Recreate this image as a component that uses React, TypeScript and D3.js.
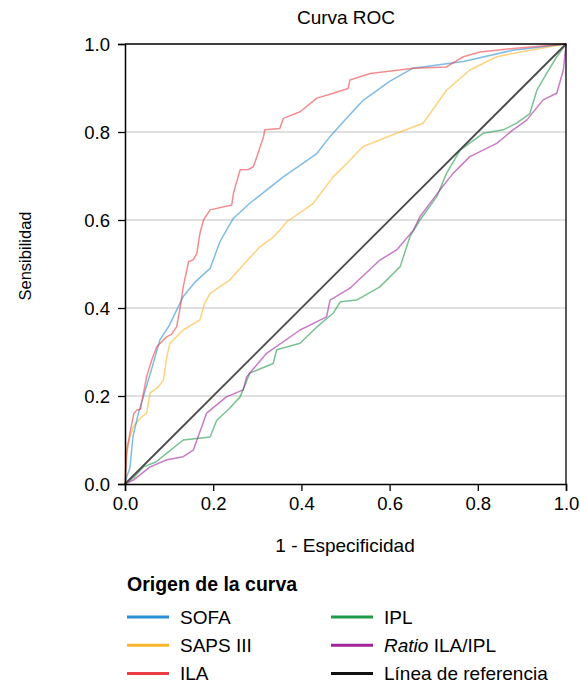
import React, { useEffect, useRef } from "react";
import * as d3 from "d3";

// ROC points: [1 - especificidad, sensibilidad]
const sofa = [
  [0, 0], [0.005, 0.02], [0.011, 0.036], [0.018, 0.107], [0.03, 0.16], [0.042, 0.2],
  [0.06, 0.26], [0.079, 0.327], [0.1, 0.36], [0.132, 0.426], [0.16, 0.46], [0.193, 0.49],
  [0.215, 0.55], [0.23, 0.577], [0.246, 0.604], [0.283, 0.638], [0.359, 0.698],
  [0.435, 0.751], [0.465, 0.79], [0.506, 0.835], [0.54, 0.872], [0.6, 0.915],
  [0.653, 0.945], [0.767, 0.96], [0.88, 0.986], [1, 1],
];
const saps = [
  [0, 0], [0.004, 0.085], [0.019, 0.13], [0.035, 0.15], [0.049, 0.161], [0.057, 0.207],
  [0.075, 0.22], [0.087, 0.236], [0.095, 0.29], [0.102, 0.32], [0.132, 0.35], [0.17, 0.373],
  [0.18, 0.41], [0.193, 0.433], [0.238, 0.464], [0.27, 0.5], [0.306, 0.539], [0.335, 0.56],
  [0.351, 0.577], [0.367, 0.596], [0.427, 0.638], [0.472, 0.698], [0.51, 0.736],
  [0.54, 0.767], [0.616, 0.797], [0.676, 0.82], [0.729, 0.895], [0.782, 0.941],
  [0.843, 0.971], [0.918, 0.986], [1, 1],
];
const ila = [
  [0, 0], [0.004, 0.07], [0.011, 0.115], [0.02, 0.16], [0.027, 0.168], [0.035, 0.17],
  [0.049, 0.244], [0.06, 0.28], [0.072, 0.312], [0.095, 0.335], [0.105, 0.34], [0.117, 0.357],
  [0.125, 0.4], [0.132, 0.448], [0.144, 0.505], [0.155, 0.51], [0.163, 0.524], [0.17, 0.57],
  [0.178, 0.6], [0.193, 0.623], [0.242, 0.634], [0.246, 0.661], [0.261, 0.714], [0.28, 0.715],
  [0.291, 0.721], [0.299, 0.744], [0.314, 0.789], [0.317, 0.805], [0.351, 0.808],
  [0.359, 0.831], [0.397, 0.846], [0.435, 0.877], [0.472, 0.888], [0.506, 0.899],
  [0.51, 0.918], [0.556, 0.933], [0.654, 0.945], [0.729, 0.948], [0.767, 0.971],
  [0.805, 0.982], [0.88, 0.99], [1, 1],
];
const ipl = [
  [0, 0], [0.02, 0.015], [0.042, 0.039], [0.07, 0.05], [0.095, 0.07], [0.132, 0.1],
  [0.193, 0.107], [0.208, 0.145], [0.235, 0.17], [0.261, 0.198], [0.283, 0.252],
  [0.336, 0.274], [0.344, 0.305], [0.397, 0.32], [0.435, 0.357], [0.472, 0.388],
  [0.488, 0.414], [0.525, 0.418], [0.578, 0.448], [0.624, 0.494], [0.646, 0.562],
  [0.669, 0.6], [0.707, 0.653], [0.729, 0.706], [0.76, 0.759], [0.812, 0.797],
  [0.858, 0.805], [0.888, 0.82], [0.918, 0.842], [0.934, 0.895], [0.956, 0.933],
  [0.979, 0.971], [1, 1],
];
const ratio = [
  [0, 0], [0.019, 0.009], [0.057, 0.039], [0.095, 0.055], [0.132, 0.062], [0.155, 0.077],
  [0.185, 0.161], [0.23, 0.198], [0.268, 0.214], [0.276, 0.244], [0.321, 0.297],
  [0.397, 0.35], [0.457, 0.38], [0.465, 0.418], [0.51, 0.445], [0.578, 0.509],
  [0.616, 0.532], [0.654, 0.577], [0.669, 0.608], [0.714, 0.668], [0.744, 0.706],
  [0.782, 0.744], [0.843, 0.774], [0.88, 0.805], [0.911, 0.827], [0.948, 0.873],
  [0.979, 0.888], [0.994, 0.941], [1, 1],
];
const reference = [[0, 0], [1, 1]];

const seriesNames = ["SOFA", "SAPS III", "ILA", "IPL", "Ratio ILA/IPL", "Línea de referencia"];
const seriesColors = ["#2a8fd4", "#fdb42a", "#ec3f44", "#1f9a4a", "#a2249e", "#111111"];
const seriesData = [sofa, saps, ila, ipl, ratio, reference];
const ticks = [0, 0.2, 0.4, 0.6, 0.8, 1];

const W = 580;
const H = 683;
const margin = { top: 44, right: 14, bottom: 199, left: 125 };
const font = "'Liberation Sans', Arial, sans-serif";

export default function App() {
  const svgRef = useRef(null);

  useEffect(() => {
    const svg = d3.select(svgRef.current);
    svg.selectAll("*").remove();

    const x = d3.scaleLinear().domain([0, 1]).range([margin.left, W - margin.right]);
    const y = d3.scaleLinear().domain([0, 1]).range([H - margin.bottom, margin.top]);

    // gridlines
    svg
      .selectAll("line.grid")
      .data(ticks.filter((t) => t > 0 && t < 1))
      .enter()
      .append("line")
      .attr("x1", x(0))
      .attr("x2", x(1))
      .attr("y1", (d) => y(d))
      .attr("y2", (d) => y(d))
      .attr("stroke", "#d6d6d6")
      .attr("stroke-width", 1.5);

    // curves
    const line = d3
      .line()
      .x((d) => x(d[0]))
      .y((d) => y(d[1]));

    const order = [3, 4, 1, 0, 2, 5];
    order.forEach((i) => {
      const isRef = i === 5;
      svg
        .append("path")
        .attr("d", line(seriesData[i]))
        .attr("fill", "none")
        .attr("stroke", isRef ? "#4a4a4a" : seriesColors[i])
        .attr("stroke-opacity", isRef ? 1 : 0.6)
        .attr("stroke-width", isRef ? 1.8 : 1.5)
        .attr("stroke-linejoin", "round");
    });

    // frame
    svg
      .append("path")
      .attr("d", `M${x(0)},${y(1)}H${x(1)}V${y(0)}`)
      .attr("fill", "none")
      .attr("stroke", "#000")
      .attr("stroke-width", 1.3);

    // axes
    const fmt = d3.format(".1f");
    const xAxis = svg
      .append("g")
      .attr("transform", `translate(0,${y(0)})`)
      .call(d3.axisBottom(x).tickValues(ticks).tickFormat(fmt).tickSize(7).tickPadding(6));
    const yAxis = svg
      .append("g")
      .attr("transform", `translate(${x(0)},0)`)
      .call(d3.axisLeft(y).tickValues(ticks).tickFormat(fmt).tickSize(7).tickPadding(8));

    [xAxis, yAxis].forEach((g) => {
      g.select(".domain").attr("stroke", "#000").attr("stroke-width", 1.5);
      g.selectAll(".tick line").attr("stroke", "#000").attr("stroke-width", 1.3);
      g.selectAll("text")
        .attr("fill", "#000")
        .style("font-family", font)
        .style("font-size", "18.5px");
    });
    yAxis.selectAll("text").attr("dy", "0.36em");

    // titles
    svg
      .append("text")
      .attr("x", 346)
      .attr("y", 24)
      .attr("text-anchor", "middle")
      .style("font-family", font)
      .style("font-size", "19px")
      .text("Curva ROC");

    svg
      .append("text")
      .attr("x", 345)
      .attr("y", 552)
      .attr("text-anchor", "middle")
      .style("font-family", font)
      .style("font-size", "19px")
      .text("1 - Especificidad");

    svg
      .append("text")
      .attr("transform", "translate(31,256) rotate(-90)")
      .attr("text-anchor", "middle")
      .style("font-family", font)
      .style("font-size", "16.5px")
      .text("Sensibilidad");

    // legend
    svg
      .append("text")
      .attr("x", 127)
      .attr("y", 591)
      .style("font-family", font)
      .style("font-size", "19.5px")
      .style("font-weight", "bold")
      .text("Origen de la curva");

    const legend = svg
      .selectAll("g.legend")
      .data(seriesNames)
      .enter()
      .append("g")
      .attr("class", "legend")
      .attr("transform", (d, i) => `translate(${i < 3 ? 127 : 331},${617 + (i % 3) * 28.3})`);

    legend
      .append("line")
      .attr("x1", 0)
      .attr("x2", 42)
      .attr("stroke", (d, i) => seriesColors[i])
      .attr("stroke-width", 3);

    const labels = legend
      .append("text")
      .attr("x", 53)
      .attr("dy", "0.36em")
      .style("font-family", font)
      .style("font-size", "19px");

    labels.each(function (d) {
      const t = d3.select(this);
      if (d.startsWith("Ratio")) {
        t.append("tspan").style("font-style", "italic").text("Ratio");
        t.append("tspan").text(d.slice(5));
      } else {
        t.text(d);
      }
    });
  }, []);

  return (
    <svg
      ref={svgRef}
      width={W}
      height={H}
      style={{ position: "absolute", left: 0, top: 0, background: "#fff" }}
    ></svg>
  );
}
